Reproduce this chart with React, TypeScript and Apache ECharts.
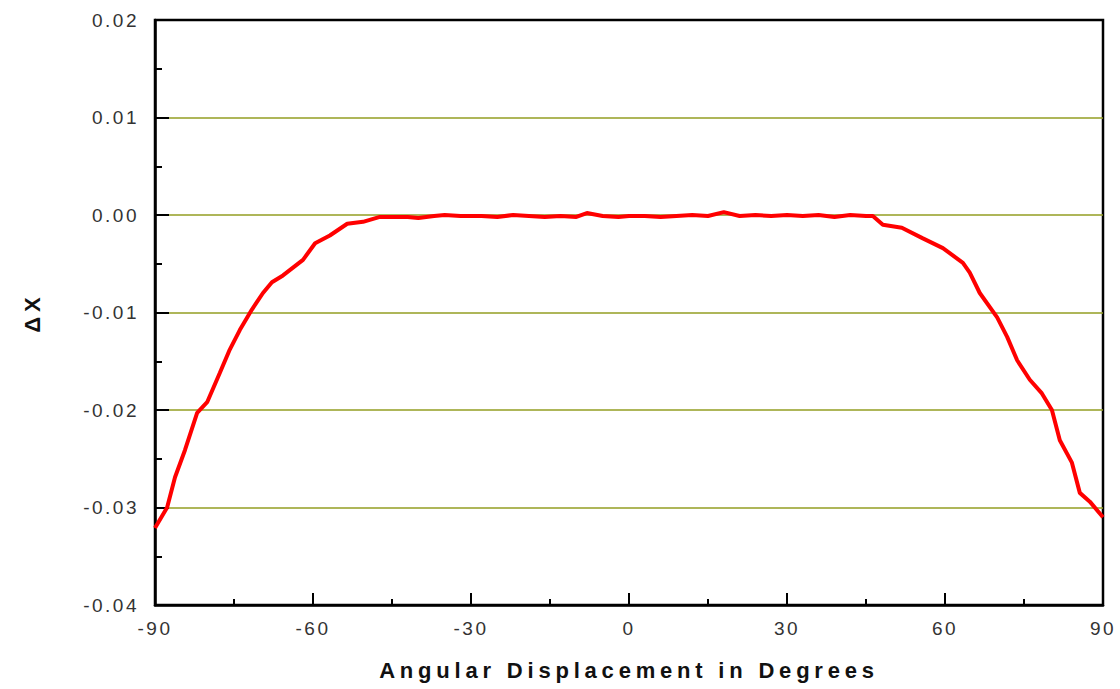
import React, { useEffect, useRef } from "react";
import * as echarts from "echarts";

const degrees: number[] = [
  -90, -87.7, -86.2, -84.3, -82.0, -80.1, -77.7, -75.8, -73.9, -71.6, -69.5, -67.8, -65.7,
  -61.9, -59.6, -56.8, -53.5, -50.5, -47.3, -45, -42, -40, -37, -35, -32, -28, -25, -22,
  -19, -16, -13, -10, -8, -5, -2, 0, 3, 6, 9, 12, 15, 18, 21, 24, 27, 30, 33, 36, 39, 42,
  45, 46.3, 48.2, 51.8, 55.8, 59.6, 63.4, 64.7, 66.6, 69.9, 71.8, 73.7, 76.1, 78.4, 80.3,
  81.8, 84.1, 85.6, 87.5, 90,
];

const deltaX: number[] = [
  -0.0321, -0.03, -0.0269, -0.0241, -0.0203, -0.0192, -0.0162, -0.0138, -0.0118, -0.0097,
  -0.008, -0.0069, -0.0062, -0.0046, -0.0029, -0.0021, -0.0009, -0.0007, -0.0002, -0.0002,
  -0.0002, -0.0003, -0.0001, 0.0, -0.0001, -0.0001, -0.0002, 0.0, -0.0001, -0.0002, -0.0001,
  -0.0002, 0.0002, -0.0001, -0.0002, -0.0001, -0.0001, -0.0002, -0.0001, 0.0, -0.0001,
  0.0003, -0.0001, 0.0, -0.0001, 0.0, -0.0001, 0.0, -0.0002, 0.0, -0.0001, -0.0001, -0.001,
  -0.0013, -0.0024, -0.0034, -0.0049, -0.0059, -0.008, -0.0105, -0.0125, -0.0149, -0.0169,
  -0.0183, -0.02, -0.0231, -0.0254, -0.0285, -0.0294, -0.031,
];

const xTicks = { min: -90, max: 90, interval: 30 };
const yTicks = { min: -0.04, max: 0.02, interval: 0.01 };

const xTitle = "Angular Displacement in Degrees";
const yTitle = "ΔX";

export default function App() {
  const ref = useRef<HTMLDivElement>(null);
  useEffect(() => {
    if (!ref.current) return;
    const chart = echarts.init(ref.current, undefined, { renderer: "svg" });
    const font = "'Liberation Sans', Arial, sans-serif";
    const olive = "#939e22";
    chart.setOption({
      animation: false,
      backgroundColor: "#ffffff",
      grid: {
        left: 155,
        right: 17,
        top: 20,
        bottom: 84,
        show: true,
        borderColor: "#000",
        borderWidth: 2.5,
        backgroundColor: "transparent",
      },
      xAxis: {
        type: "value",
        min: xTicks.min,
        max: xTicks.max,
        interval: xTicks.interval,
        name: xTitle,
        nameLocation: "middle",
        nameGap: 54,
        nameTextStyle: { fontFamily: font, fontSize: 22, fontWeight: "bold", color: "#111" },
        axisLine: { show: true, onZero: false, lineStyle: { color: "#000", width: 2.5 } },
        axisTick: { show: true, inside: true, length: 12, lineStyle: { color: "#000", width: 2 } },
        minorTick: { show: true, splitNumber: 2, length: 6, lineStyle: { color: "#000", width: 2 } },
        axisLabel: { fontFamily: font, fontSize: 19, color: "#333", margin: 14 },
        splitLine: { show: false },
      },
      yAxis: {
        type: "value",
        min: yTicks.min,
        max: yTicks.max,
        interval: yTicks.interval,
        name: yTitle,
        nameLocation: "middle",
        nameGap: 112,
        nameRotate: 90,
        nameTextStyle: { fontFamily: font, fontSize: 22, fontWeight: "bold", color: "#111" },
        axisLine: { show: true, onZero: false, lineStyle: { color: "#000", width: 2.5 } },
        axisTick: { show: true, inside: true, length: 14, lineStyle: { color: "#000", width: 2 } },
        minorTick: { show: true, splitNumber: 2, length: 7, lineStyle: { color: "#000", width: 2 } },
        axisLabel: {
          fontFamily: font,
          fontSize: 19,
          color: "#333",
          margin: 16,
          formatter: (v: number) => v.toFixed(2),
        },
        splitLine: {
          show: true,
          lineStyle: { color: ["#000", olive, olive, olive, olive, olive, "#000"], width: 1.5 },
        },
      },
      series: [
        {
          type: "line",
          data: degrees.map((d, i) => [d, deltaX[i]]),
          showSymbol: false,
          symbol: "none",
          silent: true,
          lineStyle: { color: "#ff0000", width: 4 },
          z: 5,
        },
      ],
    });
    const svg = ref.current.querySelector("svg");
    if (svg) {
      svg.querySelectorAll("text").forEach((t) => {
        const txt = t.textContent || "";
        let ls = "2.5px";
        if (txt === xTitle) ls = "4.8px";
        else if (txt === yTitle) ls = "5px";
        t.setAttribute("letter-spacing", ls);
        (t as SVGTextElement).style.letterSpacing = ls;
      });
    }
    return () => chart.dispose();
  }, []);
  return (
    <div
      ref={ref}
      style={{ position: "fixed", left: 0, top: 0, width: 1120, height: 689, background: "#fff" }}
    />
  );
}
